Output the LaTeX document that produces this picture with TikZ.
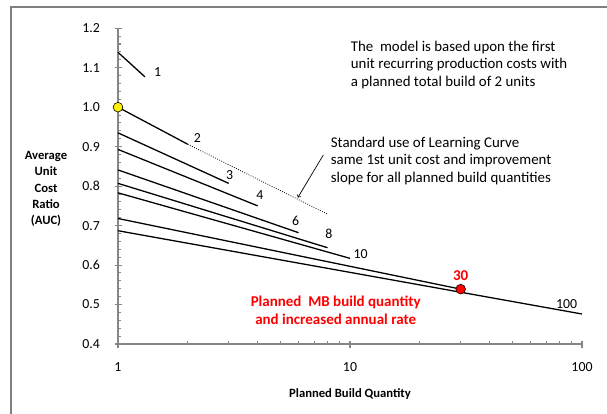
\documentclass[tikz,border=0pt]{standalone}
\usepackage{fontspec}
\setmainfont{Carlito}
\usetikzlibrary{positioning}

\definecolor{axisgray}{HTML}{868686}
\definecolor{framegray}{HTML}{7F7F7F}
\definecolor{mbred}{HTML}{FF0000}

\tikzset{
  axisline/.style={axisgray, line width=0.9pt},
  curve/.style={black, line width=1.1pt},
  lcdots/.style={black, line width=0.7pt, dash pattern=on 0.7pt off 1.3pt},
  ticklabel/.style={font=\fontsize{11.8}{14}\selectfont, inner sep=0pt},
  qlabel/.style={font=\fontsize{11.8}{14}\selectfont, inner sep=0pt},
  note/.style={font=\fontsize{12.7}{15.3}\selectfont, align=left, inner sep=0pt},
  axistitle/.style={font=\bfseries\fontsize{10.8}{13.9}\selectfont, align=center, inner sep=0pt},
  mbnote/.style={font=\bfseries\fontsize{12.8}{15.3}\selectfont, text=mbred, align=center, inner sep=0pt},
  startdot/.style={circle, draw=black, line width=0.5pt, fill=yellow, minimum size=0.29cm, inner sep=0pt},
  mbdot/.style={circle, draw=black, line width=0.5pt, fill=mbred, minimum size=0.29cm, inner sep=0pt}
}

\begin{document}
\begin{tikzpicture}
\useasboundingbox (0,0) rectangle (18.21,12.42);
\draw[framegray, line width=1.6pt] (0.33,0) -- (0.33,12.21) -- (18.21,12.21);

% plot area: x = log10(quantity), y = AUC
\begin{scope}[shift={(3.54,-2.636)}, x=6.96cm, y=11.84cm]
\draw[axisline] (0,0.4) -- (0,1.2);
\draw[axisline] (0,0.4) -- (2,0.4);

% y ticks
\foreach \i in {0,...,40}
  \draw[axisline] (0,{0.4+0.02*\i}) -- ++(0.09cm,0);
\foreach \v [count=\i] in {0.4,0.5,0.6,0.7,0.8,0.9,1.0,1.1,1.2} {
  \draw[axisline] ([xshift=-0.1cm]0,\v) -- ++(0.22cm,0);
  \node[ticklabel, anchor=east] (yl\i) at ([xshift=-0.54cm]0,\v) {\v};
}

% x ticks
\foreach \n in {2,...,9} {
  \draw[axisline] ({log10(\n)},0.4) -- ++(0,0.09cm);
  \draw[axisline] ({1+log10(\n)},0.4) -- ++(0,0.09cm);
}
\foreach \d/\t in {0/1,1/10,2/100} {
  \draw[axisline] ([yshift=-0.12cm]\d,0.4) -- ++(0,0.22cm);
  \node[ticklabel] (xl\t) at ([yshift=-0.69cm]\d,0.4) {\t};
}

% average unit cost for each planned build quantity
\draw[curve] (0,1.139) -- (0.116,1.077);
\draw[curve] (0,1.0) -- ({log10(2)},0.906);
\draw[lcdots] ({log10(2)},0.906) -- ({log10(8)},0.729);
\foreach \n/\a/\b in {3/0.935/0.807, 4/0.893/0.750, 6/0.841/0.682, 8/0.807/0.644,
                      10/0.783/0.617, 30/0.718/0.539, 100/0.687/0.476}
  \draw[curve] (0,\a) -- ({log10(\n)},\b);

\node[startdot] (first) at (0,1.0) {};
\node[mbdot] (mb) at ({log10(30)},0.539) {};
\node[mbnote, above=0.09cm of mb] (mb30) {30};

\node[qlabel] (q1) at (0.171,1.089) {1};
\node[qlabel] (q2) at (0.342,0.921) {2};
\node[qlabel] (q3) at (0.481,0.828) {3};
\node[qlabel] (q4) at (0.612,0.778) {4};
\node[qlabel] (q6) at (0.766,0.712) {6};
\node[qlabel] (q8) at (0.909,0.679) {8};
\node[qlabel] (q10) at (1.046,0.628) {10};
\node[qlabel] (q100) at (1.934,0.501) {100};

\coordinate (lctip) at (0.775,0.771);
\end{scope}

\node[note, anchor=west] (model) at (10.52,10.47)
  {The~ model is based upon the first\\unit recurring production costs with\\a planned total build of 2 units};
\node[note, anchor=west] (stdlc) at (9.92,7.59)
  {Standard use of Learning Curve\\same 1st unit cost and improvement\\slope for all planned build quantities};
\draw[black, line width=0.6pt, ->] ([xshift=-0.22cm,yshift=0.18cm]stdlc.west) -- (lctip);

\node[mbnote] (mbtext) at (10.07,3.12) {Planned~ MB build quantity\\and increased annual rate};

\node[axistitle] (ytitle) at (1.38,6.75) {Average\\Unit\\Cost\\Ratio\\(AUC)};
\node[axistitle] (xtitle) at (10.5,0.59) {Planned Build Quantity};
\end{tikzpicture}
\end{document}
